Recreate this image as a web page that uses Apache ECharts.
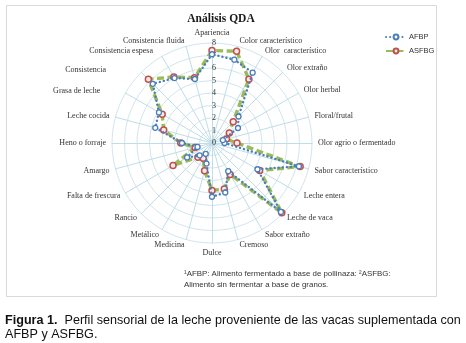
<!DOCTYPE html>
<html>
<head>
<meta charset="utf-8">
<script src="https://cdn.jsdelivr.net/npm/echarts@6/dist/echarts.min.js"></script>
<style>
html,body{margin:0;padding:0;background:#fff;}
#c{width:466px;height:343px;}
</style>
</head>
<body>
<div id="c"></div>
<script>
const categories = [
  'Apariencia','Color característico','Olor  característico','Olor extraño','Olor herbal',
  'Floral/frutal','Olor agrio o fermentado','Sabor característico','Leche entera','Leche de vaca',
  'Sabor extraño','Cremoso','Dulce','Medicina','Metálico','Rancio','Falta de frescura','Amargo',
  'Heno o forraje','Leche cocida','Grasa de leche','Consistencia','Consistencia espesa','Consistencia fluida'
];
const afbp  = [7.1, 6.9, 6.5, 3.0, 2.4, 0.9, 1.0, 7.2, 4.2, 7.8, 2.6, 4.1, 4.3, 1.7, 1.0, 1.4, 2.3, 1.2, 2.4, 4.7, 4.9, 6.7, 6.0, 5.3];
const asfbg = [7.4, 7.6, 5.9, 2.4, 1.6, 1.2, 2.0, 7.3, 4.4, 7.9, 2.9, 3.8, 3.8, 2.3, 1.4, 1.6, 3.6, 1.4, 2.5, 4.0, 4.6, 7.2, 6.1, 5.4];
const seriesNames = ['AFBP', 'ASFBG'];
const axisMin = 0, axisMax = 8, axisStep = 1;
const chartTitle = 'Análisis QDA';
const footnote = '¹AFBP: Alimento fermentado a base de pollinaza: ²ASFBG:\nAlimento sin fermentar a base de granos.';
const captionBold = 'Figura 1.';
const captionText = 'Perfil sensorial de la leche proveniente de las vacas suplementada con\nAFBP y ASFBG.';

// ECharts radar runs counter-clockwise; the reference runs clockwise, so reorder for the library.
const clockwise = arr => [arr[0]].concat(arr.slice(1).reverse());

// extra label offsets (layout only) for the crowded upper-left labels
const labelPadStyle = {
  'Consistencia': 'p31',
  'Grasa de leche': 'p20',
  'Consistencia espesa': 'p6'
};
const nameFont = {color: '#333', fontFamily: 'Liberation Serif', fontSize: 8};

const blue = '#4a7ebb', green = '#9bbb59', red = '#c0504d';
const afbpLine = {color: blue, width: 2.4, type: [0.1, 4], cap: 'round'};
const afbpItem = {color: '#ffffff', borderColor: blue, borderWidth: 1.3};
const asfbgLine = {color: green, width: 3.4, type: [7, 3.5], cap: 'butt'};
const asfbgItem = {color: '#fbeaea', borderColor: red, borderWidth: 1.5};

const chart = echarts.init(document.getElementById('c'), null, {renderer: 'canvas'});
chart.setOption({
  animation: false,
  backgroundColor: '#ffffff',
  title: [
    {text: chartTitle, left: 221, top: 13, textAlign: 'center', padding: 0,
     textStyle: {fontFamily: 'Liberation Serif', fontWeight: 'bold', fontSize: 11.5, color: '#1a1a1a'}},
    {text: footnote, left: 184, top: 268, padding: 0,
     textStyle: {fontFamily: 'Liberation Sans', fontWeight: 'normal', fontSize: 7.9, color: '#333', lineHeight: 11}},
    {text: '{b|' + captionBold + '}  ' + captionText.split('\n')[0] + '\n' + captionText.split('\n')[1], left: 5, top: 314, padding: 0,
     textStyle: {fontFamily: 'Liberation Sans', fontWeight: 'normal', fontSize: 12.6, color: '#111', lineHeight: 14,
       rich: {b: {fontFamily: 'Liberation Sans', fontWeight: 'bold', fontSize: 12.6, color: '#111', lineHeight: 14}}}}
  ],
  legend: {
    data: seriesNames, orient: 'vertical', left: 385, top: 33, itemGap: 6, padding: 0,
    itemWidth: 20, itemHeight: 6,
    textStyle: {fontFamily: 'Liberation Sans', fontSize: 7.5, color: '#333', padding: [0, 0, 0, -2]}
  },
  grid: {left: 0, top: 0, width: 1, height: 1, show: false},
  xAxis: {type: 'category', show: false, data: []},
  yAxis: {type: 'value', show: false},
  polar: {center: [212, 143], radius: 100},
  angleAxis: {type: 'value', show: false, min: 0, max: 360},
  radiusAxis: {
    type: 'value', min: axisMin, max: axisMax, interval: axisStep,
    axisLine: {show: false}, axisTick: {show: false}, splitLine: {show: false},
    axisLabel: {fontFamily: 'Liberation Serif', fontSize: 8, color: '#333', margin: -4, align: 'right'}
  },
  radar: {
    center: [212, 143], radius: 100, startAngle: 90, shape: 'circle', splitNumber: 8,
    indicator: clockwise(categories).map(n => ({name: n, min: axisMin, max: axisMax})),
    nameGap: 6,
    axisName: Object.assign({}, nameFont, {
      formatter: n => labelPadStyle[n] ? '{' + labelPadStyle[n] + '|' + n + '}' : n,
      rich: {
        p31: Object.assign({}, nameFont, {padding: [4, 31, 0, 0]}),
        p20: Object.assign({}, nameFont, {padding: [1, 20, 0, 0]}),
        p6: Object.assign({}, nameFont, {padding: [0, 6, 0, 0]})
      }
    }),
    splitLine: {lineStyle: {color: '#d2e5ec', width: 1}},
    splitArea: {show: false},
    axisLine: {lineStyle: {color: '#bfdce7', width: 1}},
    axisTick: {show: false},
    axisLabel: {show: false}
  },
  graphic: [
    {type: 'rect', shape: {x: 6.5, y: 5.5, width: 430, height: 291}, silent: true,
     style: {fill: 'none', stroke: '#d9d9d9', lineWidth: 1}, z: -10}
  ],
  series: [
    {type: 'line', name: seriesNames[0], data: [], symbol: 'circle', symbolSize: 5,
     lineStyle: afbpLine, itemStyle: afbpItem},
    {type: 'line', name: seriesNames[1], data: [], symbol: 'circle', symbolSize: 6,
     lineStyle: asfbgLine, itemStyle: asfbgItem},
    {type: 'radar', name: 'QDA-ASFBG', z: 2,
     data: [{name: seriesNames[1], value: clockwise(asfbg), symbol: 'circle', symbolSize: 6,
             lineStyle: asfbgLine, itemStyle: asfbgItem}]},
    {type: 'radar', name: 'QDA-AFBP', z: 3,
     data: [{name: seriesNames[0], value: clockwise(afbp), symbol: 'circle', symbolSize: 5,
             lineStyle: afbpLine, itemStyle: afbpItem}]}
  ]
});
</script>
</body>
</html>
